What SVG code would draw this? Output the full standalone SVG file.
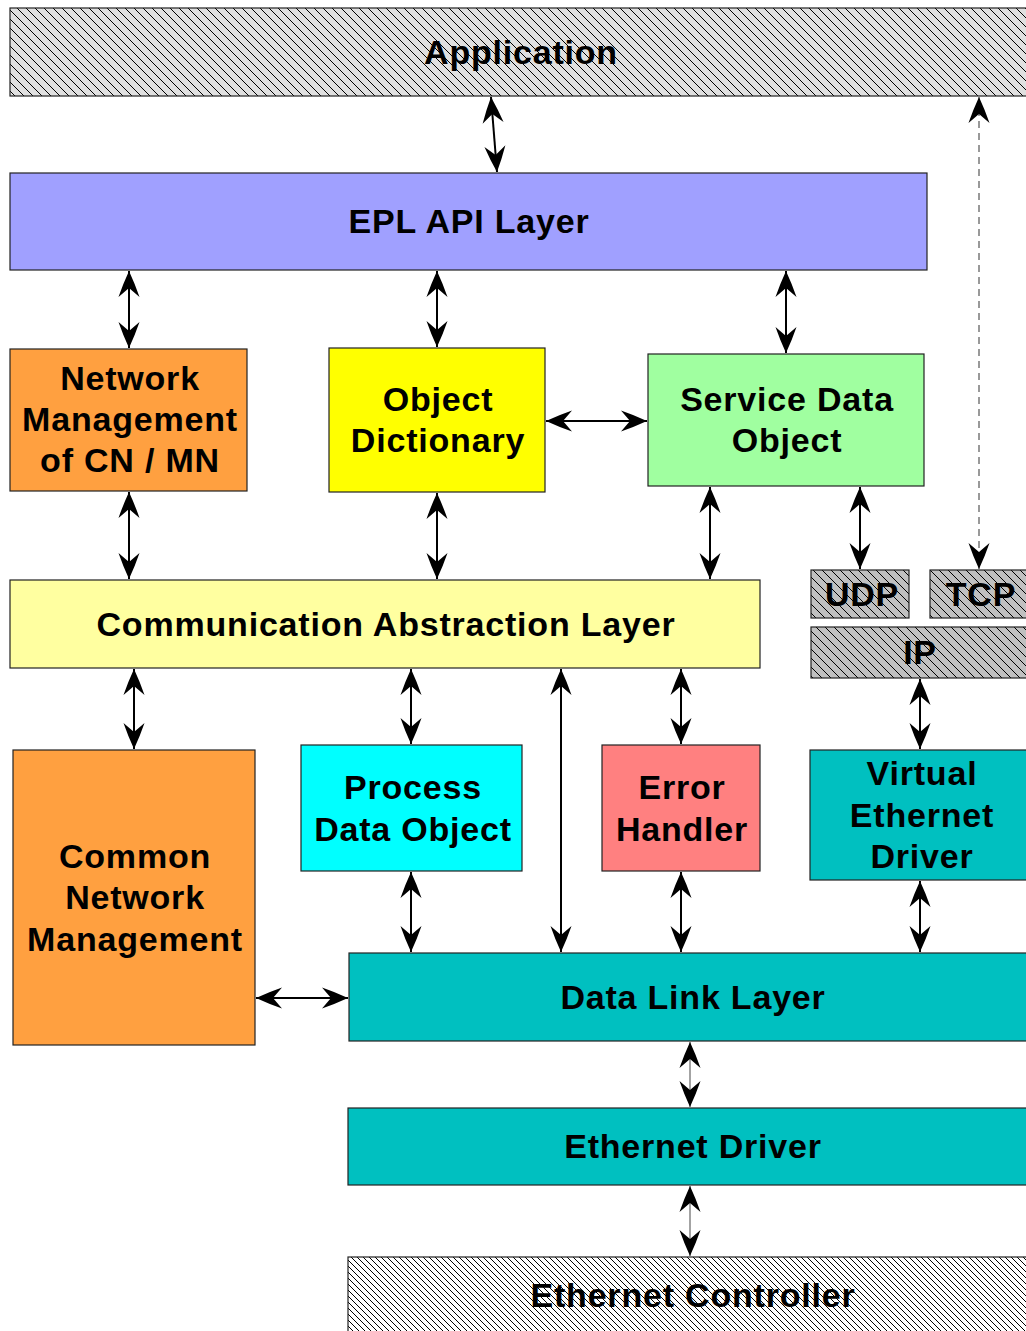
<svg xmlns="http://www.w3.org/2000/svg" width="1026" height="1331" viewBox="0 0 1026 1331">
  <style>
    .box { stroke: #222; stroke-width: 1.2; }
    .lbl { font-family: "Liberation Sans", Arial, sans-serif; font-weight: bold; font-size: 34px; letter-spacing: 0.8px; fill: #000; text-anchor: middle; }
    .arr { stroke: #000; stroke-width: 2; fill: none; marker-start: url(#head); marker-end: url(#head); }
    .thin { stroke: #666; stroke-width: 1.2; fill: none; marker-start: url(#head); marker-end: url(#head); }
    .dash { stroke: #808080; stroke-width: 1.6; stroke-dasharray: 7 5; fill: none; marker-start: url(#head); marker-end: url(#head); }
  </style>
  <defs>
    <marker id="head" viewBox="0 0 28 22" refX="27" refY="11" markerWidth="28" markerHeight="22" markerUnits="userSpaceOnUse" orient="auto-start-reverse">
      <path d="M27,11 Q14,5 1,0.5 L10,11 L1,21.5 Q14,17 27,11 Z" fill="#000"/>
    </marker>
    <pattern id="hatchLight" patternUnits="userSpaceOnUse" width="9" height="9">
      <rect width="9" height="9" fill="#e0e0e0"/>
      <path d="M-1,-1 L10,10 M-1,8 L1,10 M8,-1 L10,1" stroke="#000" stroke-width="1"/>
    </pattern>
    <pattern id="hatchGray" patternUnits="userSpaceOnUse" width="9" height="9">
      <rect width="9" height="9" fill="#c0c0c0"/>
      <path d="M-1,-1 L10,10 M-1,8 L1,10 M8,-1 L10,1" stroke="#000" stroke-width="1"/>
    </pattern>
    <pattern id="hatchWhite" patternUnits="userSpaceOnUse" width="6" height="6">
      <rect width="6" height="6" fill="#ffffff"/>
      <path d="M-1,-1 L7,7 M-1,5 L1,7 M5,-1 L7,1" stroke="#000" stroke-width="1"/>
    </pattern>
  </defs>

  <!-- layers and modules -->
  <g id="application">
    <rect class="box" x="10" y="8" width="1030" height="88" fill="url(#hatchLight)"/>
    <text class="lbl" x="521" y="64">Application</text>
  </g>
  <g id="epl-api">
    <rect class="box" x="10" y="173" width="917" height="97" fill="#a0a0ff"/>
    <text class="lbl" x="469" y="233">EPL API Layer</text>
  </g>
  <g id="nmt-cn-mn">
    <rect class="box" x="10" y="349" width="237" height="142" fill="#ffa040"/>
    <text class="lbl" x="130" y="390">Network</text>
    <text class="lbl" x="130" y="431">Management</text>
    <text class="lbl" x="130" y="472">of CN / MN</text>
  </g>
  <g id="object-dictionary">
    <rect class="box" x="329" y="348" width="216" height="144" fill="#ffff00"/>
    <text class="lbl" x="438" y="411">Object</text>
    <text class="lbl" x="438" y="452">Dictionary</text>
  </g>
  <g id="sdo">
    <rect class="box" x="648" y="354" width="276" height="132" fill="#a0ffa0"/>
    <text class="lbl" x="787" y="411">Service Data</text>
    <text class="lbl" x="787" y="452">Object</text>
  </g>
  <g id="cal">
    <rect class="box" x="10" y="580" width="750" height="88" fill="#ffffa0"/>
    <text class="lbl" x="386" y="636">Communication Abstraction Layer</text>
  </g>
  <g id="udp">
    <rect class="box" x="811" y="570" width="98" height="48" fill="url(#hatchGray)"/>
    <text class="lbl" x="862" y="606">UDP</text>
  </g>
  <g id="tcp">
    <rect class="box" x="930" y="570" width="100" height="48" fill="url(#hatchGray)"/>
    <text class="lbl" x="981" y="606">TCP</text>
  </g>
  <g id="ip">
    <rect class="box" x="811" y="627" width="219" height="51" fill="url(#hatchGray)"/>
    <text class="lbl" x="920" y="664">IP</text>
  </g>
  <g id="common-nmt">
    <rect class="box" x="13" y="750" width="242" height="295" fill="#ffa040"/>
    <text class="lbl" x="135" y="868">Common</text>
    <text class="lbl" x="135" y="909">Network</text>
    <text class="lbl" x="135" y="951">Management</text>
  </g>
  <g id="pdo">
    <rect class="box" x="301" y="745" width="221" height="126" fill="#00ffff"/>
    <text class="lbl" x="413" y="799">Process</text>
    <text class="lbl" x="413" y="841">Data Object</text>
  </g>
  <g id="error-handler">
    <rect class="box" x="602" y="745" width="158" height="126" fill="#ff8080"/>
    <text class="lbl" x="682" y="799">Error</text>
    <text class="lbl" x="682" y="841">Handler</text>
  </g>
  <g id="virtual-eth">
    <rect class="box" x="810" y="750" width="220" height="130" fill="#00c0c0"/>
    <text class="lbl" x="922" y="785">Virtual</text>
    <text class="lbl" x="922" y="827">Ethernet</text>
    <text class="lbl" x="922" y="868">Driver</text>
  </g>
  <g id="data-link">
    <rect class="box" x="349" y="953" width="681" height="88" fill="#00c0c0"/>
    <text class="lbl" x="693" y="1009">Data Link Layer</text>
  </g>
  <g id="eth-driver">
    <rect class="box" x="348" y="1108" width="682" height="77" fill="#00c0c0"/>
    <text class="lbl" x="693" y="1158">Ethernet Driver</text>
  </g>
  <g id="eth-controller">
    <rect class="box" x="348" y="1257" width="682" height="80" fill="url(#hatchWhite)"/>
    <text class="lbl" x="693" y="1307">Ethernet Controller</text>
  </g>

  <!-- connectors -->
  <g id="connectors">
    <line class="arr" x1="491" y1="97" x2="497" y2="172"/>
    <line class="dash" x1="979" y1="97" x2="979" y2="569"/>
    <line class="arr" x1="129" y1="271" x2="129" y2="348"/>
    <line class="arr" x1="437" y1="271" x2="437" y2="347"/>
    <line class="arr" x1="786" y1="271" x2="786" y2="353"/>
    <line class="arr" x1="546" y1="421" x2="647" y2="421"/>
    <line class="arr" x1="129" y1="492" x2="129" y2="579"/>
    <line class="arr" x1="437" y1="493" x2="437" y2="579"/>
    <line class="arr" x1="710" y1="487" x2="710" y2="579"/>
    <line class="arr" x1="860" y1="487" x2="860" y2="569"/>
    <line class="arr" x1="920" y1="679" x2="920" y2="749"/>
    <line class="arr" x1="134" y1="669" x2="134" y2="749"/>
    <line class="arr" x1="411" y1="669" x2="411" y2="744"/>
    <line class="arr" x1="561" y1="669" x2="561" y2="952"/>
    <line class="arr" x1="681" y1="669" x2="681" y2="744"/>
    <line class="arr" x1="411" y1="872" x2="411" y2="952"/>
    <line class="arr" x1="681" y1="872" x2="681" y2="952"/>
    <line class="arr" x1="920" y1="881" x2="920" y2="952"/>
    <line class="arr" x1="256" y1="998" x2="348" y2="998"/>
    <line class="thin" x1="690" y1="1042" x2="690" y2="1107"/>
    <line class="thin" x1="690" y1="1186" x2="690" y2="1256"/>
  </g>
</svg>
